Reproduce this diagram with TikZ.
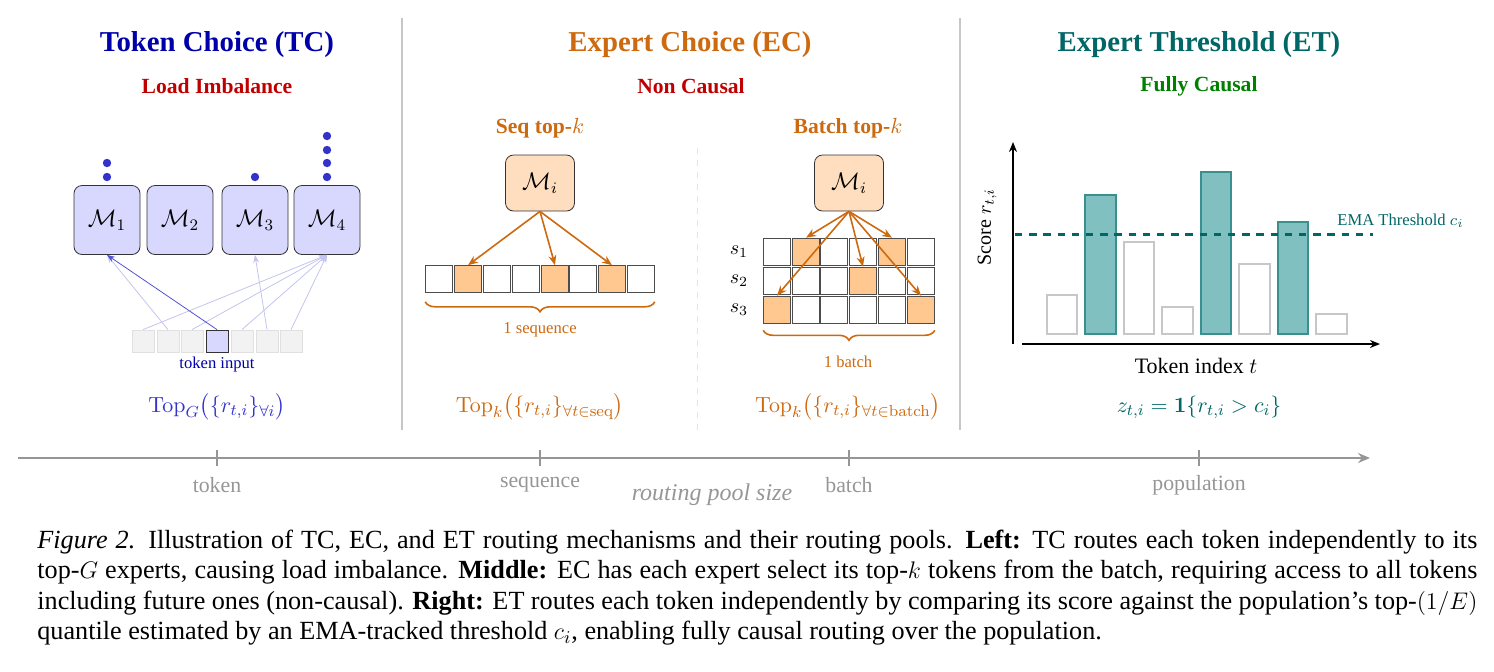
\documentclass[tikz,border=0pt]{standalone}
\usepackage{amsmath,amssymb}
\usepackage[no-math]{fontspec}
\setmainfont{Liberation Serif}
\usepackage{xcolor}
\usepackage{tikz}
\usetikzlibrary{arrows.meta,positioning,decorations.pathreplacing,calc}

\definecolor{tcdark}{RGB}{0,0,170}
\definecolor{tcblue}{RGB}{51,51,204}
\definecolor{tclav}{RGB}{216,216,255}
\definecolor{tcfaint}{RGB}{196,196,238}
\definecolor{alertred}{RGB}{192,0,0}
\definecolor{ecorange}{RGB}{205,105,15}
\definecolor{ecpeach}{RGB}{255,222,192}
\definecolor{ecsel}{RGB}{255,200,145}
\definecolor{etteal}{RGB}{0,102,102}
\definecolor{etbar}{RGB}{128,192,192}
\definecolor{etedge}{RGB}{58,143,143}
\definecolor{etgreen}{RGB}{0,128,0}
\definecolor{axgray}{RGB}{150,150,150}

\begin{document}
\begin{tikzpicture}[x=0.5pt,y=-0.5pt,
    title/.style={font=\fontsize{14.4}{17}\selectfont\bfseries},
    subtitle/.style={font=\fontsize{10.8}{13}\selectfont\bfseries},
    lbl/.style={font=\fontsize{8.3}{10}\selectfont},
    formula/.style={font=\fontsize{11}{13}\selectfont},
    tcbox/.style={draw=black!80,fill=tclav,rounded corners=4pt,minimum width=33pt,minimum height=34.5pt,inner sep=0pt,font=\fontsize{12}{14}\selectfont},
    ecbox/.style={draw=black!80,fill=ecpeach,rounded corners=4pt,minimum width=34.5pt,minimum height=28pt,inner sep=0pt,font=\fontsize{12}{14}\selectfont},
    tokcell/.style={draw=black!12,fill=black!5,minimum size=11pt,inner sep=0pt},
    cell/.style={draw=black!70,minimum size=13.4pt,inner sep=0pt},
    tcarrow/.style={tcfaint,-{Stealth[length=4pt,width=3pt]}},
    ecarrow/.style={ecorange,thick,-{Stealth[length=5pt,width=4pt]}},
    ecbrace/.style={ecorange,thick,decorate,decoration={brace,mirror,amplitude=5pt}},
    tick/.style={font=\fontsize{10.9}{13}\selectfont,text=axgray}]
\useasboundingbox (0,0) rectangle (1494,671);

% panel separators
\draw[black!22,thick] (402,18) -- (402,430);
\draw[black!22,thick] (960,18) -- (960,430);
\draw[black!10,dashed] (697,148) -- (697,430);

% titles
\node[title,text=tcdark] (tctitle) at (217,45) {Token Choice (TC)};
\node[title,text=ecorange] (ectitle) at (690,45) {Expert Choice (EC)};
\node[title,text=etteal] (ettitle) at (1199,45) {Expert Threshold (ET)};
\node[subtitle,text=alertred] (tcsub) at (217,86) {Load Imbalance};
\node[subtitle,text=alertred] (ecsub) at (691,86) {Non Causal};
\node[subtitle,text=etgreen] (etsub) at (1199,86) {Fully Causal};

% token choice
\foreach \i/\x in {1/107,2/180,3/255,4/327}
    \node[tcbox] (m\i) at (\x,220) {$\mathcal{M}_{\i}$};
\foreach \x/\y in {107/163,107/177,255/177,327/136,327/150,327/163,327/177}
    \fill[tcblue] (\x,\y) circle (2.1pt);
\foreach \i/\x in {1/143,2/168,3/192,5/242,6/267,7/291}
    \node[tokcell] (c\i) at (\x,341) {};
\node[tokcell,draw=black!80,fill=tclav] (c4) at (217,341) {};
\foreach \a/\b in {1/4,2/1,3/4,5/4,6/3,7/4}
    \draw[tcarrow] (c\a.north) -- (m\b.south);
\draw[tcblue!85,-{Stealth[length=4pt,width=3pt]}] (c4.north) -- (m1.south);
\node[lbl,text=tcdark] (tokin) at (217,364) {token input};
\node[formula,text=tcblue] (tcf) at (217,407) {$\mathrm{Top}_G\big(\{r_{t,i}\}_{\forall i}\big)$};

% expert choice, sequence
\node[subtitle,text=ecorange] (seqtitle) at (540,128) {Seq top-$k$};
\node[ecbox] (mis) at (540,183) {$\mathcal{M}_i$};
\foreach \i/\x/\f in {1/439/white,2/468/ecsel,3/497/white,4/526/white,5/555/ecsel,6/583/white,7/612/ecsel,8/641/white}
    \node[cell,fill=\f] (s\i) at (\x,279) {};
\foreach \i in {2,5,7}
    \draw[ecarrow] (mis.south) -- (s\i.north);
\draw[ecbrace] ($(s1.south west)+(0,9)$) -- ($(s8.south east)+(0,9)$);
\node[lbl,text=ecorange] (seqlbl) at (540,330) {1 sequence};
\node[formula,text=ecorange] (seqf) at (540,407) {$\mathrm{Top}_k\big(\{r_{t,i}\}_{\forall t\in\mathrm{seq}}\big)$};

% expert choice, batch
\node[subtitle,text=ecorange] (battitle) at (848,128) {Batch top-$k$};
\node[ecbox] (mib) at (849,183) {$\mathcal{M}_i$};
\foreach \r/\y in {1/251.5,2/280.5,3/309.5}{
    \node[lbl,font=\fontsize{10}{12}\selectfont] (row\r) at (739,\y) {$s_{\r}$};
    \foreach \c/\x in {1/777,2/806,3/834,4/863,5/892,6/921}
        \node[cell,fill=white] (b\r\c) at (\x,\y) {};
}
\foreach \r/\c in {1/2,1/5,2/4,3/1,3/6}
    \node[cell,fill=ecsel] (h\r\c) at (b\r\c) {};
\foreach \r/\c in {1/2,1/5,2/4,3/1,3/6}
    \draw[ecarrow] (mib.south) -- (h\r\c.north);
\draw[ecbrace] ($(b31.south west)+(0,7)$) -- ($(b36.south east)+(0,7)$);
\node[lbl,text=ecorange] (batlbl) at (848,362) {1 batch};
\node[formula,text=ecorange] (batf) at (848,407) {$\mathrm{Top}_k\big(\{r_{t,i}\}_{\forall t\in\mathrm{batch}}\big)$};

% expert threshold
\coordinate (ytop) at (1013,142);
\coordinate (ybot) at (1013,344);
\coordinate (xbeg) at (1022,344);
\coordinate (xend) at (1380,344);
\draw[thick,-{Stealth[length=5pt,width=4pt]}] (ybot) -- (ytop);
\draw[thick,-{Stealth[length=5pt,width=4pt]}] (xbeg) -- (xend);
\foreach \x/\h in {1062/295,1139/242,1177.5/307,1254.5/264,1331.5/314}
    \draw[black!22,thick] (\x-15.25,334) rectangle (\x+15.25,\h);
\foreach \x/\h in {1100.5/195,1216/172,1293/222}
    \draw[etedge,fill=etbar,thick] (\x-15.25,334) rectangle (\x+15.25,\h);
\draw[etteal,line width=1.5pt,dash pattern=on 3.7pt off 3.4pt] (1015,234) -- (1373,234);
\node[lbl,text=etteal,anchor=west,inner sep=0pt] (ema) at (1337,221) {EMA Threshold $c_i$};
\node[rotate=90,font=\fontsize{10}{12}\selectfont] (score) at (987,227) {Score $r_{t,i}$};
\node[font=\fontsize{11}{13}\selectfont] (tokidx) at (1196,366) {Token index $t$};
\node[formula,text=etteal] (etf) at (1199,407) {$z_{t,i}=\mathbf{1}\{r_{t,i}>c_i\}$};

% routing pool axis
\coordinate (pbeg) at (18,458);
\coordinate (pend) at (1370,458);
\draw[axgray,thick,-{Stealth[length=6pt,width=5pt]}] (pbeg) -- (pend);
\foreach \x/\t in {217/token,540/sequence,849/batch,1199/population}{
    \draw[axgray,thick] (\x,450) -- (\x,466);
    \node[tick] (p\t) at (\x,485) {\t};
}
\node[tick,font=\fontsize{12}{14}\selectfont\itshape] (pool) at (712,495) {routing pool size};

% caption
\node[anchor=base west,text width=720pt,inner sep=0pt,align=justify,font=\fontsize{13.1}{15.3}\selectfont] (caption) at (37,548)
{\textit{Figure 2.} Illustration of TC, EC, and ET routing mechanisms and their routing pools. \textbf{Left:} TC routes each token independently to its\linebreak
top-$G$ experts, causing load imbalance. \textbf{Middle:} EC has each expert select its top-$k$ tokens from the batch, requiring access to all tokens\linebreak
including future ones (non-causal). \textbf{Right:} ET routes each token independently by comparing its score against the population’s top-$(1/E)$\linebreak
quantile estimated by an EMA-tracked threshold $c_i$, enabling fully causal routing over the population.};
\end{tikzpicture}
\end{document}
